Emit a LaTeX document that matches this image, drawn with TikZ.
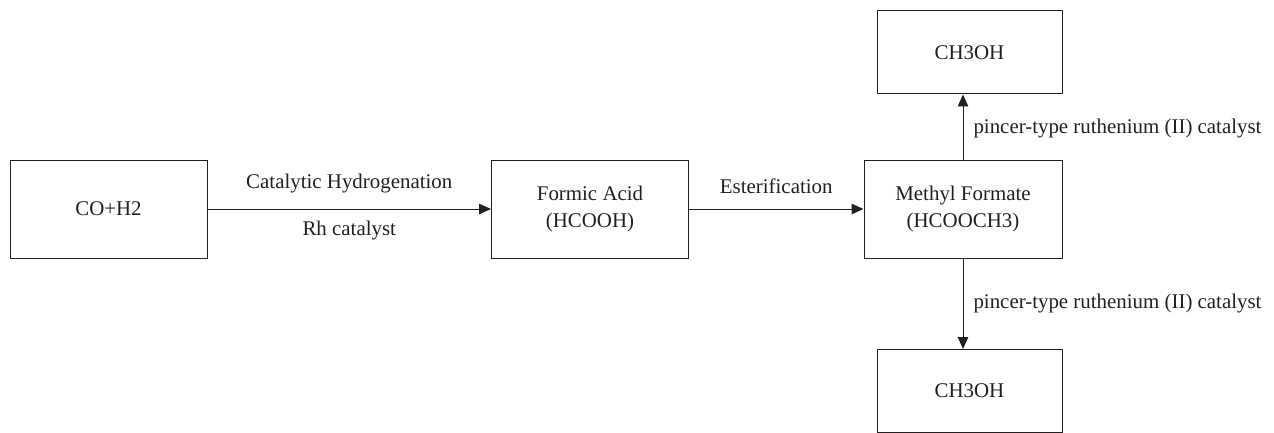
\documentclass[tikz,border=0pt]{standalone}
\usepackage{fontspec}
\setmainfont{Liberation Serif}
\usetikzlibrary{arrows.meta}
\definecolor{ink}{HTML}{231F20}
\begin{document}
\begin{tikzpicture}[x=1pt,y=-1pt,
  every node/.style={text=ink, font=\fontsize{20.9}{27}\selectfont},
  box/.style={draw=ink, line width=1pt, rectangle, inner sep=0pt, align=center},
  conn/.style={draw=ink, line width=1pt, -{Triangle[length=12pt,width=10.5pt]}},
  lbl/.style={inner sep=0pt}
]
\useasboundingbox (0,0) rectangle (1274,433);
\node[box, minimum width=197pt, minimum height=98pt] (a) at (108.5,209) {CO+H2};
\node[box, minimum width=197pt, minimum height=98pt] (b) at (590,209) {Formic Acid\\(HCOOH)};
\node[box, minimum width=198pt, minimum height=98pt] (c) at (963,209) {Methyl Formate\\(HCOOCH3)};
\node[box, minimum width=185pt, minimum height=83pt] (d) at (969.5,52.5) {CH3OH};
\node[box, minimum width=185pt, minimum height=83pt] (e) at (969.5,391) {CH3OH};
\draw[conn] (a) -- (b)
  node[lbl, midway, yshift=25pt] (l1) {Catalytic Hydrogenation}
  node[lbl, midway, yshift=-22pt] (l2) {Rh catalyst};
\draw[conn] (b) -- (c)
  node[lbl, midway, yshift=23pt] (l3) {Esterification};
\draw[conn] (c.north) -- (c.north |- d.south)
  node[lbl, midway, anchor=west, xshift=10pt, yshift=-2pt] (l4) {pincer-type ruthenium (II) catalyst};
\draw[conn] (c.south) -- (c.south |- e.north)
  node[lbl, midway, anchor=west, xshift=10pt] (l5) {pincer-type ruthenium (II) catalyst};
\end{tikzpicture}
\end{document}
